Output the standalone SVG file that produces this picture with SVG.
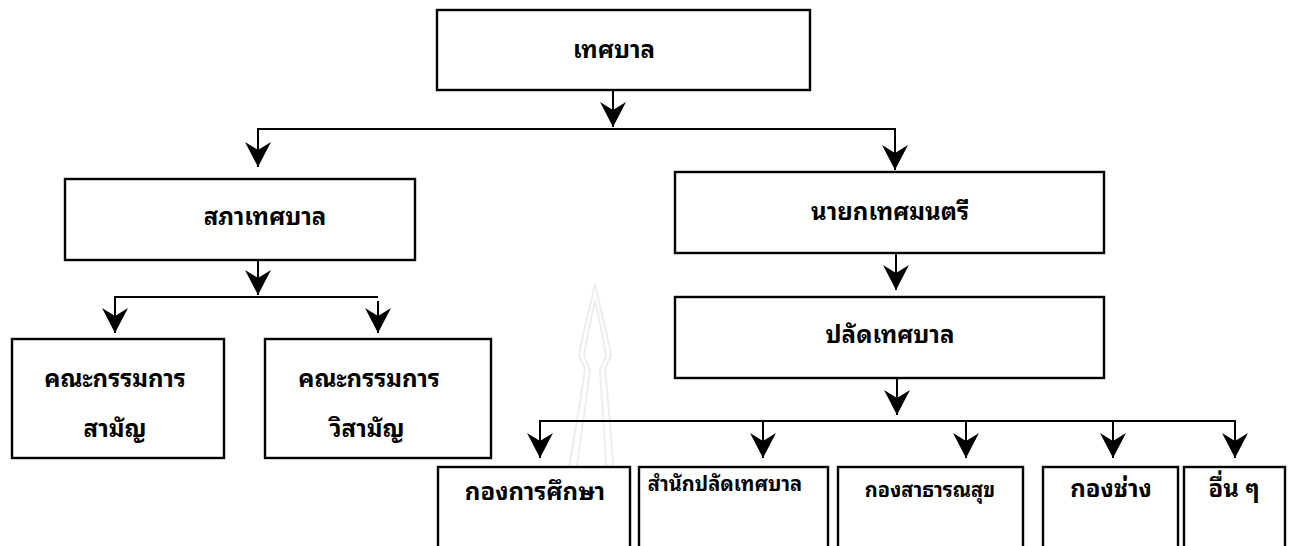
<svg xmlns="http://www.w3.org/2000/svg" width="1304" height="546" viewBox="0 0 1304 546">
<style>
.box{fill:#fff;stroke:#000;stroke-width:2.4}
.ln{fill:none;stroke:#000;stroke-width:2}
.t{font-family:"Noto Sans Thai Looped","Noto Serif Thai","Noto Sans Thai","Garuda","Loma","DejaVu Sans",sans-serif;font-weight:bold;fill:#000;text-anchor:middle}
.big{font-size:24px}
.mid{font-size:20px}
.sm{font-size:20px}
.wm{fill:none;stroke:#ededed;stroke-width:2}
</style>
<defs>
<marker id="ah" markerUnits="userSpaceOnUse" viewBox="-26 -14 28 28" refX="0" refY="0" markerWidth="28" markerHeight="28" orient="auto">
<path d="M0,0 L-25,-13 L-17,0 L-25,13 Z" fill="#000"/>
</marker>
</defs>
<rect width="1304" height="546" fill="#fff"/>
<g id="watermark">
<path class="wm" d="M595,283 C590,310 582,335 579,356 L585,368 C578,420 566,480 556,546"/>
<path class="wm" d="M595,283 C600,310 608,335 611,356 L605,368 C610,420 615,480 618,546"/>
<path class="wm" d="M595,300 C591,320 586,340 584,356 L590,370 C584,420 574,480 566,546"/>
<path class="wm" d="M595,300 C599,320 604,340 606,356 L600,370 C603,420 608,480 610,546"/>
</g>
<g id="connectors">
<path class="ln" d="M613,90 V127" marker-end="url(#ah)"/>
<path class="ln" d="M258,167 V129 H895 V170"/>
<path class="ln" d="M258,140 V167" marker-end="url(#ah)"/>
<path class="ln" d="M895,140 V170" marker-end="url(#ah)"/>
<path class="ln" d="M258,260 V295" marker-end="url(#ah)"/>
<path class="ln" d="M115,333 V297 H378"/>
<path class="ln" d="M115,310 V333" marker-end="url(#ah)"/>
<path class="ln" d="M378,301 V333" marker-end="url(#ah)"/>
<path class="ln" d="M896,253 V290" marker-end="url(#ah)"/>
<path class="ln" d="M897,378 V415" marker-end="url(#ah)"/>
<path class="ln" d="M540,458 V421 H1235 V458"/>
<path class="ln" d="M540,430 V458" marker-end="url(#ah)"/>
<path class="ln" d="M763,421 V458" marker-end="url(#ah)"/>
<path class="ln" d="M966,421 V458" marker-end="url(#ah)"/>
<path class="ln" d="M1113,421 V458" marker-end="url(#ah)"/>
<path class="ln" d="M1235,430 V458" marker-end="url(#ah)"/>
</g>
<g id="n-thesaban">
<rect class="box" x="437" y="10" width="373" height="80"/>
<text class="t big" x="614" y="58">เทศบาล</text>
</g>
<g id="n-sapha">
<rect class="box" x="65" y="179" width="350" height="81"/>
<text class="t big" x="265" y="225">สภาเทศบาล</text>
</g>
<g id="n-samanya">
<rect class="box" x="12" y="339" width="212" height="119"/>
<text class="t big" x="115" y="387">คณะกรรมการ</text>
<text class="t big" x="115" y="437">สามัญ</text>
</g>
<g id="n-wisamanya">
<rect class="box" x="265" y="339" width="226" height="119"/>
<text class="t big" x="369" y="387">คณะกรรมการ</text>
<text class="t big" x="367" y="437">วิสามัญ</text>
</g>
<g id="n-mayor">
<rect class="box" x="675" y="172" width="429" height="81"/>
<text class="t big" x="890" y="220">นายกเทศมนตรี</text>
</g>
<g id="n-palad">
<rect class="box" x="675" y="297" width="429" height="81"/>
<text class="t big" x="890" y="343">ปลัดเทศบาล</text>
</g>
<g id="n-education">
<rect class="box" x="438" y="467" width="192" height="95"/>
<text class="t big" x="535" y="500">กองการศึกษา</text>
</g>
<g id="n-office">
<rect class="box" x="639" y="467" width="189" height="95"/>
<text class="t sm" x="725" y="491">สำนักปลัดเทศบาล</text>
</g>
<g id="n-health">
<rect class="box" x="838" y="467" width="185" height="95"/>
<text class="t mid" x="930" y="497">กองสาธารณสุข</text>
</g>
<g id="n-engineer">
<rect class="box" x="1043" y="467" width="135" height="95"/>
<text class="t big" x="1111" y="497">กองช่าง</text>
</g>
<g id="n-other">
<rect class="box" x="1184" y="467" width="101" height="95"/>
<text class="t big" x="1234" y="497">อื่น ๆ</text>
</g>
</svg>
